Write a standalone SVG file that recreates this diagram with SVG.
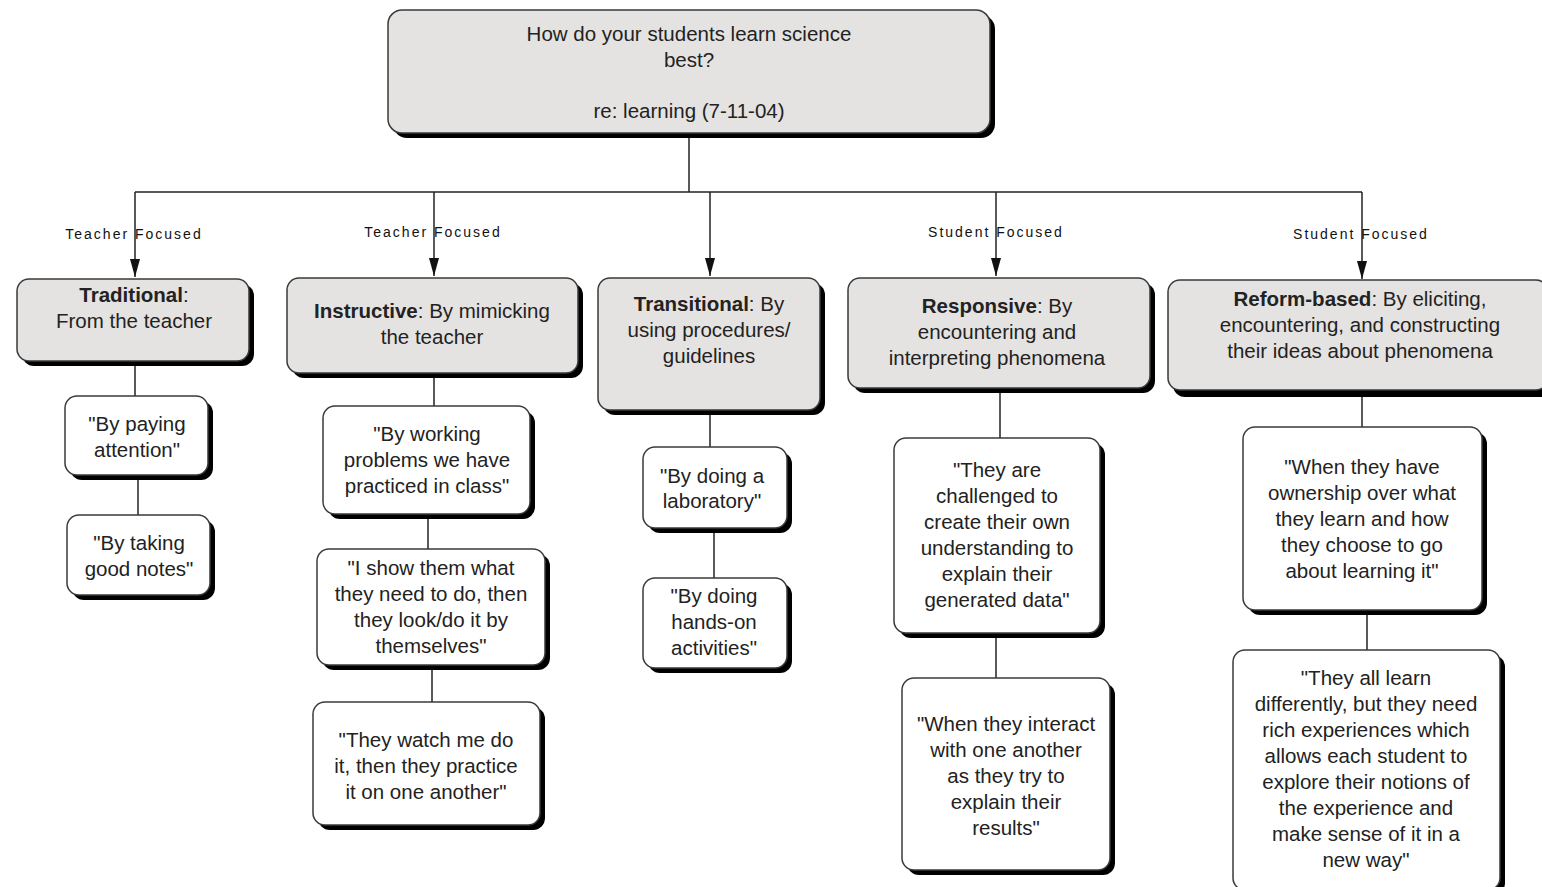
<svg xmlns="http://www.w3.org/2000/svg" width="1542" height="887" viewBox="0 0 1542 887">
<defs>
<style>
.sh{fill:#000;}
.g{fill:#e5e3e1;stroke:#3a3a3a;stroke-width:1.5;}
.w{fill:#ffffff;stroke:#3a3a3a;stroke-width:1.5;}
.t{font-family:"Liberation Sans",Arial,sans-serif;font-size:20.5px;fill:#222;text-anchor:middle;}
.b{font-weight:bold;}
.lbl{font-family:"Liberation Sans",Arial,sans-serif;font-size:14px;fill:#111;text-anchor:middle;letter-spacing:2px;}
.c{stroke:#222;stroke-width:1.5;fill:none;}
</style>
<marker id="ah" markerUnits="userSpaceOnUse" markerWidth="18" markerHeight="10" refX="18" refY="5" orient="auto" viewBox="0 0 18 10">
<path d="M0,0 L18,5 L0,10 z" fill="#111"/>
</marker>
</defs>
<rect width="1542" height="887" fill="#ffffff"/>

<g id="connectors">
<line class="c" x1="689" y1="133" x2="689" y2="192"/>
<line class="c" x1="135" y1="192" x2="1362" y2="192"/>
<line class="c" x1="135" y1="192" x2="135" y2="277" marker-end="url(#ah)"/>
<line class="c" x1="434" y1="192" x2="434" y2="276" marker-end="url(#ah)"/>
<line class="c" x1="710" y1="192" x2="710" y2="276" marker-end="url(#ah)"/>
<line class="c" x1="996" y1="192" x2="996" y2="276" marker-end="url(#ah)"/>
<line class="c" x1="1362" y1="192" x2="1362" y2="279" marker-end="url(#ah)"/>
<line class="c" x1="135" y1="361" x2="135" y2="396"/>
<line class="c" x1="138" y1="475" x2="138" y2="515"/>
<line class="c" x1="434" y1="373" x2="434" y2="406"/>
<line class="c" x1="428" y1="514" x2="428" y2="549"/>
<line class="c" x1="432" y1="665" x2="432" y2="702"/>
<line class="c" x1="710" y1="410" x2="710" y2="447"/>
<line class="c" x1="714" y1="528" x2="714" y2="578"/>
<line class="c" x1="1000" y1="388" x2="1000" y2="438"/>
<line class="c" x1="996" y1="633" x2="996" y2="678"/>
<line class="c" x1="1362" y1="390" x2="1362" y2="427"/>
<line class="c" x1="1367" y1="610" x2="1367" y2="650"/>
<text class="lbl" x="134" y="239">Teacher Focused</text>
<text class="lbl" x="433" y="237">Teacher Focused</text>
<text class="lbl" x="996" y="237">Student Focused</text>
<text class="lbl" x="1361" y="239">Student Focused</text>
</g>

<g id="root">
<rect class="sh" x="393" y="15" width="602" height="123" rx="14"/>
<rect class="g" x="388" y="10" width="602" height="123" rx="14"/>
<text class="t" x="689" y="41">How do your students learn science</text>
<text class="t" x="689" y="67">best?</text>
<text class="t" x="689" y="118">re: learning (7-11-04)</text>
</g>

<g id="traditional">
<rect class="sh" x="22" y="284" width="232" height="82" rx="12"/>
<rect class="g" x="17" y="279" width="232" height="82" rx="12"/>
<text class="t" x="134" y="302"><tspan class="b">Traditional</tspan>:</text>
<text class="t" x="134" y="328">From the teacher</text>
</g>

<g id="instructive">
<rect class="sh" x="292" y="283" width="291" height="95" rx="12"/>
<rect class="g" x="287" y="278" width="291" height="95" rx="12"/>
<text class="t" x="432" y="318"><tspan class="b">Instructive</tspan>: By mimicking</text>
<text class="t" x="432" y="344">the teacher</text>
</g>

<g id="transitional">
<rect class="sh" x="603" y="283" width="222" height="132" rx="12"/>
<rect class="g" x="598" y="278" width="222" height="132" rx="12"/>
<text class="t" x="709" y="311"><tspan class="b">Transitional</tspan>: By</text>
<text class="t" x="709" y="337">using procedures/</text>
<text class="t" x="709" y="363">guidelines</text>
</g>

<g id="responsive">
<rect class="sh" x="853" y="283" width="302" height="110" rx="12"/>
<rect class="g" x="848" y="278" width="302" height="110" rx="12"/>
<text class="t" x="997" y="313"><tspan class="b">Responsive</tspan>: By</text>
<text class="t" x="997" y="339">encountering and</text>
<text class="t" x="997" y="365">interpreting phenomena</text>
</g>

<g id="reform">
<rect class="sh" x="1173" y="285" width="380" height="112" rx="12"/>
<rect class="g" x="1168" y="280" width="380" height="110" rx="12"/>
<text class="t" x="1360" y="306"><tspan class="b">Reform-based</tspan>: By eliciting,</text>
<text class="t" x="1360" y="332">encountering, and constructing</text>
<text class="t" x="1360" y="358">their ideas about phenomena</text>
</g>

<g id="trad1">
<rect class="sh" x="70" y="401" width="143" height="79" rx="12"/>
<rect class="w" x="65" y="396" width="143" height="79" rx="12"/>
<text class="t" x="137" y="431">"By paying</text>
<text class="t" x="137" y="457">attention"</text>
</g>

<g id="trad2">
<rect class="sh" x="72" y="520" width="143" height="80" rx="12"/>
<rect class="w" x="67" y="515" width="143" height="80" rx="12"/>
<text class="t" x="139" y="550">"By taking</text>
<text class="t" x="139" y="576">good notes"</text>
</g>

<g id="inst1">
<rect class="sh" x="328" y="411" width="207" height="108" rx="12"/>
<rect class="w" x="323" y="406" width="207" height="108" rx="12"/>
<text class="t" x="427" y="441">"By working</text>
<text class="t" x="427" y="467">problems we have</text>
<text class="t" x="427" y="493">practiced in class"</text>
</g>

<g id="inst2">
<rect class="sh" x="322" y="554" width="228" height="116" rx="12"/>
<rect class="w" x="317" y="549" width="228" height="116" rx="12"/>
<text class="t" x="431" y="575">"I show them what</text>
<text class="t" x="431" y="601">they need to do, then</text>
<text class="t" x="431" y="627">they look/do it by</text>
<text class="t" x="431" y="653">themselves"</text>
</g>

<g id="inst3">
<rect class="sh" x="318" y="707" width="227" height="123" rx="12"/>
<rect class="w" x="313" y="702" width="227" height="123" rx="12"/>
<text class="t" x="426" y="747">"They watch me do</text>
<text class="t" x="426" y="773">it, then they practice</text>
<text class="t" x="426" y="799">it on one another"</text>
</g>

<g id="trans1">
<rect class="sh" x="648" y="452" width="144" height="81" rx="12"/>
<rect class="w" x="643" y="447" width="144" height="81" rx="12"/>
<text class="t" x="712" y="483">"By doing a</text>
<text class="t" x="712" y="508">laboratory"</text>
</g>

<g id="trans2">
<rect class="sh" x="648" y="583" width="144" height="90" rx="12"/>
<rect class="w" x="643" y="578" width="144" height="90" rx="12"/>
<text class="t" x="714" y="603">"By doing</text>
<text class="t" x="714" y="629">hands-on</text>
<text class="t" x="714" y="655">activities"</text>
</g>

<g id="resp1">
<rect class="sh" x="899" y="443" width="206" height="195" rx="12"/>
<rect class="w" x="894" y="438" width="206" height="195" rx="12"/>
<text class="t" x="997" y="477">"They are</text>
<text class="t" x="997" y="503">challenged to</text>
<text class="t" x="997" y="529">create their own</text>
<text class="t" x="997" y="555">understanding to</text>
<text class="t" x="997" y="581">explain their</text>
<text class="t" x="997" y="607">generated data"</text>
</g>

<g id="resp2">
<rect class="sh" x="907" y="683" width="208" height="192" rx="12"/>
<rect class="w" x="902" y="678" width="208" height="192" rx="12"/>
<text class="t" x="1006" y="731">"When they interact</text>
<text class="t" x="1006" y="757">with one another</text>
<text class="t" x="1006" y="783">as they try to</text>
<text class="t" x="1006" y="809">explain their</text>
<text class="t" x="1006" y="835">results"</text>
</g>

<g id="ref1">
<rect class="sh" x="1248" y="432" width="239" height="183" rx="12"/>
<rect class="w" x="1243" y="427" width="239" height="183" rx="12"/>
<text class="t" x="1362" y="474">"When they have</text>
<text class="t" x="1362" y="500">ownership over what</text>
<text class="t" x="1362" y="526">they learn and how</text>
<text class="t" x="1362" y="552">they choose to go</text>
<text class="t" x="1362" y="578">about learning it"</text>
</g>

<g id="ref2">
<rect class="sh" x="1238" y="655" width="267" height="240" rx="12"/>
<rect class="w" x="1233" y="650" width="267" height="240" rx="12"/>
<text class="t" x="1366" y="685">"They all learn</text>
<text class="t" x="1366" y="711">differently, but they need</text>
<text class="t" x="1366" y="737">rich experiences which</text>
<text class="t" x="1366" y="763">allows each student to</text>
<text class="t" x="1366" y="789">explore their notions of</text>
<text class="t" x="1366" y="815">the experience and</text>
<text class="t" x="1366" y="841">make sense of it in a</text>
<text class="t" x="1366" y="867">new way"</text>
</g>
</svg>
